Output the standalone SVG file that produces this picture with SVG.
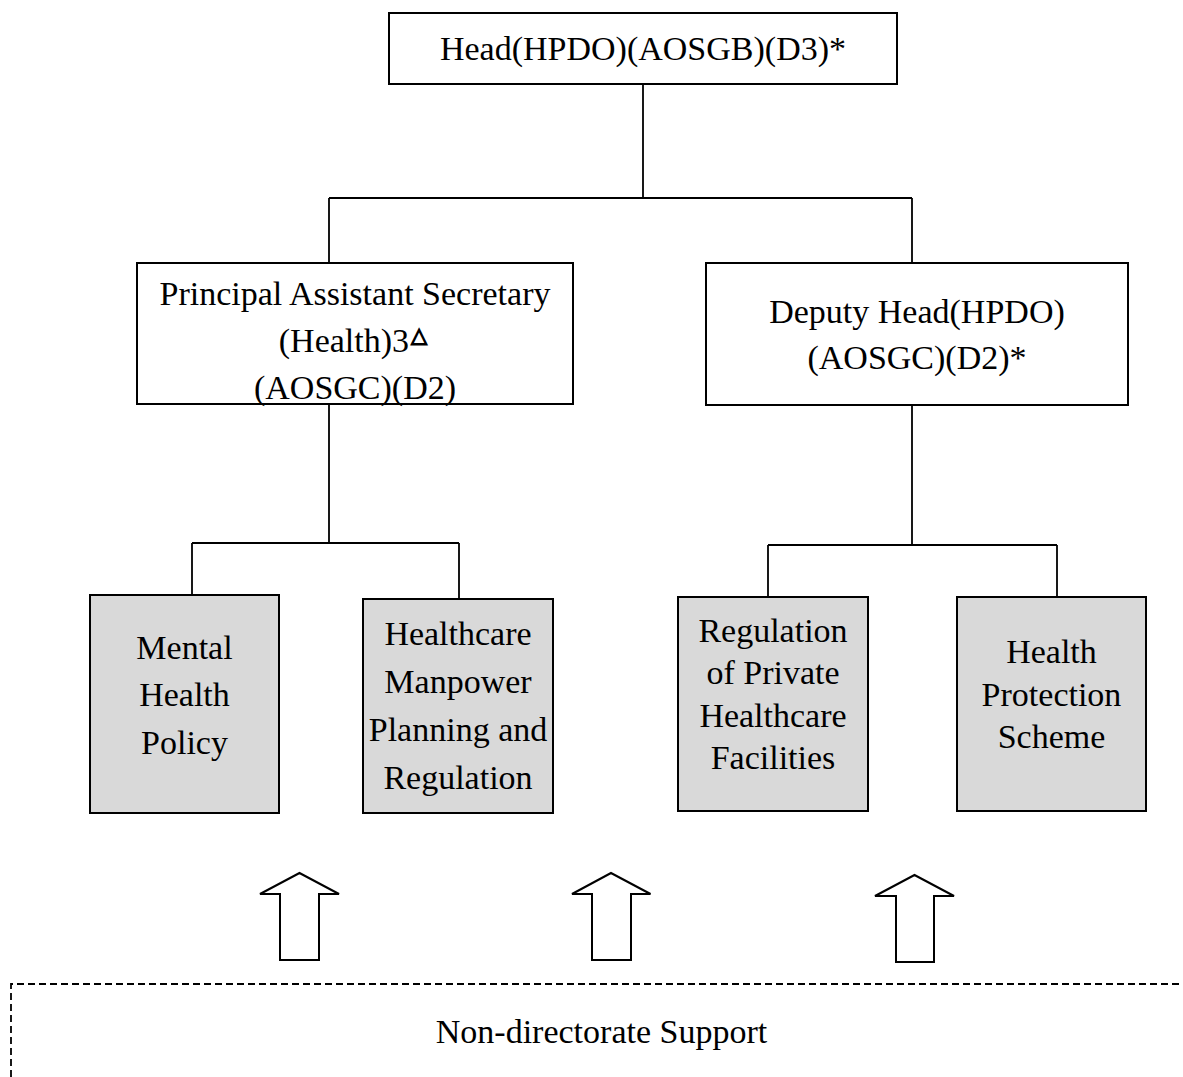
<svg xmlns="http://www.w3.org/2000/svg" width="1183" height="1077" viewBox="0 0 1183 1077">
<style>
.box{fill:#fff;stroke:#000;stroke-width:2}
.gray{fill:#d9d9d9;stroke:#000;stroke-width:2}
.t{font-family:"Liberation Serif","Times New Roman",serif;font-size:34px;fill:#000;text-anchor:middle}
.ln{fill:none;stroke:#000;stroke-width:1.8}
.arrow{fill:#fff;stroke:#000;stroke-width:2;stroke-linejoin:miter}
.dash{fill:none;stroke:#000;stroke-width:1.8;stroke-dasharray:7 4}
.sup{font-family:"DejaVu Sans",sans-serif;font-size:21px;stroke:#000;stroke-width:1.2}
</style>
<rect width="1183" height="1077" fill="#fff"/>
<g id="connectors">
<path class="ln" d="M643 84V198M329 198H912M329 198V263M912 198V263"/>
<path class="ln" d="M329 404V543M192 543H459M192 543V595M459 543V599"/>
<path class="ln" d="M912 405V545M768 545H1057M768 545V597M1057 545V597"/>
</g>
<g id="head">
<rect class="box" x="389" y="13" width="508" height="71"/>
<text class="t" x="643" y="60">Head(HPDO)(AOSGB)(D3)*</text>
</g>
<g id="pas">
<rect class="box" x="137" y="263" width="436" height="141"/>
<text class="t" x="355" y="305">Principal Assistant Secretary</text>
<text class="t" x="353" y="352">(Health)3<tspan class="sup" dx="2" dy="-10">△</tspan></text>
<text class="t" x="355" y="399">(AOSGC)(D2)</text>
</g>
<g id="deputy">
<rect class="box" x="706" y="263" width="422" height="142"/>
<text class="t" x="917" y="323">Deputy Head(HPDO)</text>
<text class="t" x="917" y="369">(AOSGC)(D2)*</text>
</g>
<g id="mental">
<rect class="gray" x="90" y="595" width="189" height="218"/>
<text class="t" x="184.5" y="659">Mental</text>
<text class="t" x="184.5" y="706">Health</text>
<text class="t" x="184.5" y="754">Policy</text>
</g>
<g id="manpower">
<rect class="gray" x="363" y="599" width="190" height="214"/>
<text class="t" x="458" y="645">Healthcare</text>
<text class="t" x="458" y="693">Manpower</text>
<text class="t" x="458" y="741">Planning and</text>
<text class="t" x="458" y="789">Regulation</text>
</g>
<g id="private">
<rect class="gray" x="678" y="597" width="190" height="214"/>
<text class="t" x="773" y="642">Regulation</text>
<text class="t" x="773" y="684">of Private</text>
<text class="t" x="773" y="727">Healthcare</text>
<text class="t" x="773" y="769">Facilities</text>
</g>
<g id="protection">
<rect class="gray" x="957" y="597" width="189" height="214"/>
<text class="t" x="1051.5" y="663">Health</text>
<text class="t" x="1051.5" y="706">Protection</text>
<text class="t" x="1051.5" y="748">Scheme</text>
</g>
<g id="arrows">
<polygon class="arrow" points="299.5,873 260,894 280,894 280,960 319,960 319,894 339,894"/>
<polygon class="arrow" points="611,873 572,894 592,894 592,960 631,960 631,894 650.5,894"/>
<polygon class="arrow" points="914.5,875 875,896 896,896 896,962 934,962 934,896 954,896"/>
</g>
<g id="support">
<path class="dash" d="M11 1077V984H1190"/>
<text class="t" x="601.5" y="1043">Non-directorate Support</text>
</g>
</svg>
